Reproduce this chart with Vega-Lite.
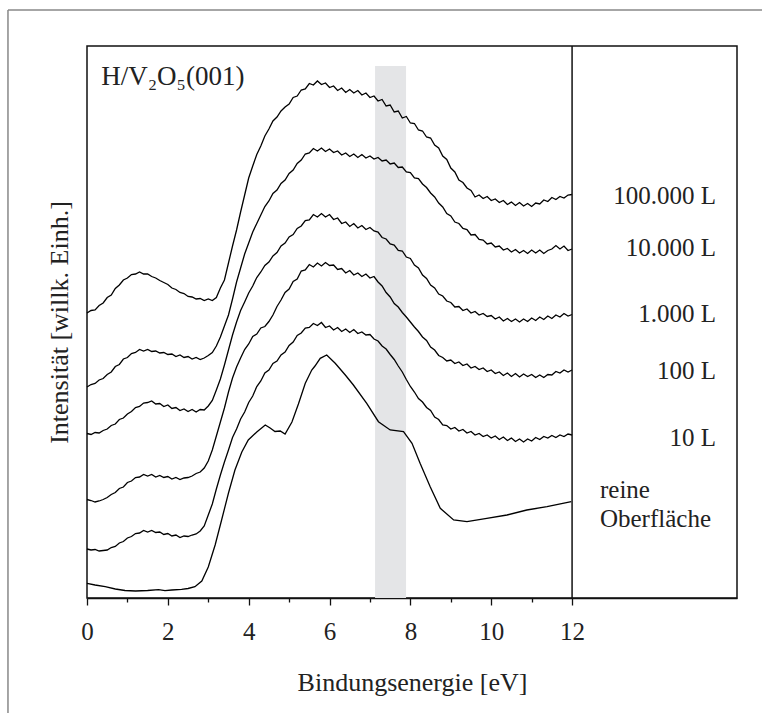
{
"$schema": "https://vega.github.io/schema/vega-lite/v6.json",
"width": 650, "height": 552,
"autosize": {"type": "none"},
"padding": {"left": 87, "top": 46, "right": 25, "bottom": 115},
"background": "white",
"config": {"view": {"stroke": "#111", "strokeWidth": 1.5}, "font": "Liberation Serif"},
"datasets": {
"curves": [
{"s":"a","x":0,"y":285},{"s":"a","x":0.1,"y":287.5},{"s":"a","x":0.2,"y":288},{"s":"a","x":0.3,"y":292.5},{"s":"a","x":0.4,"y":295},{"s":"a","x":0.5,"y":300.5},{"s":"a","x":0.6,"y":303},{"s":"a","x":0.7,"y":309.5},{"s":"a","x":0.8,"y":313},{"s":"a","x":0.9,"y":318},{"s":"a","x":1.0,"y":320},{"s":"a","x":1.1,"y":323.5},{"s":"a","x":1.2,"y":324},{"s":"a","x":1.3,"y":326},{"s":"a","x":1.4,"y":324},{"s":"a","x":1.5,"y":324},{"s":"a","x":1.6,"y":321.5},{"s":"a","x":1.7,"y":320},{"s":"a","x":1.8,"y":317.5},{"s":"a","x":1.9,"y":315.5},{"s":"a","x":2.0,"y":313.5},{"s":"a","x":2.1,"y":310},{"s":"a","x":2.2,"y":308.5},{"s":"a","x":2.3,"y":305.5},{"s":"a","x":2.4,"y":304.5},{"s":"a","x":2.5,"y":301.5},{"s":"a","x":2.6,"y":301},{"s":"a","x":2.7,"y":299},{"s":"a","x":2.8,"y":299.5},{"s":"a","x":2.9,"y":297.5},{"s":"a","x":3.0,"y":299},{"s":"a","x":3.1,"y":297.5},{"s":"a","x":3.2,"y":300.5},{"s":"a","x":3.3,"y":310},{"s":"a","x":3.4,"y":318},{"s":"a","x":3.5,"y":335},{"s":"a","x":3.6,"y":352},{"s":"a","x":3.7,"y":368},{"s":"a","x":3.8,"y":386},{"s":"a","x":3.9,"y":403},{"s":"a","x":4.0,"y":420},{"s":"a","x":4.1,"y":432},{"s":"a","x":4.2,"y":443.5},{"s":"a","x":4.3,"y":452},{"s":"a","x":4.4,"y":462},{"s":"a","x":4.5,"y":469},{"s":"a","x":4.6,"y":477},{"s":"a","x":4.7,"y":481},{"s":"a","x":4.8,"y":487},{"s":"a","x":4.9,"y":491},{"s":"a","x":5.0,"y":494},{"s":"a","x":5.1,"y":500.5},{"s":"a","x":5.2,"y":502},{"s":"a","x":5.3,"y":508},{"s":"a","x":5.4,"y":509},{"s":"a","x":5.5,"y":514.5},{"s":"a","x":5.6,"y":513},{"s":"a","x":5.7,"y":517},{"s":"a","x":5.8,"y":513.5},{"s":"a","x":5.9,"y":515},{"s":"a","x":6.0,"y":510.5},{"s":"a","x":6.1,"y":512},{"s":"a","x":6.2,"y":507.5},{"s":"a","x":6.3,"y":510},{"s":"a","x":6.4,"y":505.5},{"s":"a","x":6.5,"y":508.5},{"s":"a","x":6.6,"y":505},{"s":"a","x":6.7,"y":507.5},{"s":"a","x":6.8,"y":503},{"s":"a","x":6.9,"y":505},{"s":"a","x":7.0,"y":500.5},{"s":"a","x":7.1,"y":502},{"s":"a","x":7.2,"y":497},{"s":"a","x":7.3,"y":498.5},{"s":"a","x":7.4,"y":492},{"s":"a","x":7.5,"y":493},{"s":"a","x":7.6,"y":486},{"s":"a","x":7.7,"y":487},{"s":"a","x":7.8,"y":480},{"s":"a","x":7.9,"y":481.5},{"s":"a","x":8.0,"y":475},{"s":"a","x":8.1,"y":474.5},{"s":"a","x":8.2,"y":468},{"s":"a","x":8.3,"y":467},{"s":"a","x":8.4,"y":461},{"s":"a","x":8.5,"y":460},{"s":"a","x":8.6,"y":453},{"s":"a","x":8.7,"y":450},{"s":"a","x":8.8,"y":442},{"s":"a","x":8.9,"y":438.5},{"s":"a","x":9.0,"y":430},{"s":"a","x":9.1,"y":426},{"s":"a","x":9.2,"y":418},{"s":"a","x":9.3,"y":415.5},{"s":"a","x":9.4,"y":410},{"s":"a","x":9.5,"y":407.5},{"s":"a","x":9.6,"y":401},{"s":"a","x":9.7,"y":403},{"s":"a","x":9.8,"y":399.5},{"s":"a","x":9.9,"y":401.5},{"s":"a","x":10.0,"y":397.5},{"s":"a","x":10.1,"y":399},{"s":"a","x":10.2,"y":395.5},{"s":"a","x":10.3,"y":397.5},{"s":"a","x":10.4,"y":393.5},{"s":"a","x":10.5,"y":396},{"s":"a","x":10.6,"y":392.5},{"s":"a","x":10.7,"y":395.5},{"s":"a","x":10.8,"y":392},{"s":"a","x":10.9,"y":394.5},{"s":"a","x":11.0,"y":391.5},{"s":"a","x":11.1,"y":395},{"s":"a","x":11.2,"y":394},{"s":"a","x":11.3,"y":398},{"s":"a","x":11.4,"y":396.5},{"s":"a","x":11.5,"y":400.5},{"s":"a","x":11.6,"y":398.5},{"s":"a","x":11.7,"y":401.5},{"s":"a","x":11.8,"y":400},{"s":"a","x":11.9,"y":403},{"s":"a","x":12.0,"y":403.5},
{"s":"b","x":0,"y":211},{"s":"b","x":0.1,"y":213.5},{"s":"b","x":0.2,"y":214.5},{"s":"b","x":0.3,"y":218},{"s":"b","x":0.4,"y":219.5},{"s":"b","x":0.5,"y":223.5},{"s":"b","x":0.6,"y":226},{"s":"b","x":0.7,"y":231.5},{"s":"b","x":0.8,"y":233.5},{"s":"b","x":0.9,"y":239},{"s":"b","x":1.0,"y":240.5},{"s":"b","x":1.1,"y":244.5},{"s":"b","x":1.2,"y":245.5},{"s":"b","x":1.3,"y":248.5},{"s":"b","x":1.4,"y":247},{"s":"b","x":1.5,"y":248.5},{"s":"b","x":1.6,"y":246.5},{"s":"b","x":1.7,"y":247},{"s":"b","x":1.8,"y":245},{"s":"b","x":1.9,"y":245.5},{"s":"b","x":2.0,"y":243.5},{"s":"b","x":2.1,"y":244},{"s":"b","x":2.2,"y":241.5},{"s":"b","x":2.3,"y":243},{"s":"b","x":2.4,"y":240.5},{"s":"b","x":2.5,"y":241.5},{"s":"b","x":2.6,"y":239},{"s":"b","x":2.7,"y":240.5},{"s":"b","x":2.8,"y":238.5},{"s":"b","x":2.9,"y":240},{"s":"b","x":3.0,"y":242.5},{"s":"b","x":3.1,"y":245.5},{"s":"b","x":3.2,"y":252},{"s":"b","x":3.3,"y":261},{"s":"b","x":3.4,"y":272},{"s":"b","x":3.5,"y":283},{"s":"b","x":3.6,"y":299},{"s":"b","x":3.7,"y":316},{"s":"b","x":3.8,"y":330},{"s":"b","x":3.9,"y":344},{"s":"b","x":4.0,"y":355},{"s":"b","x":4.1,"y":366},{"s":"b","x":4.2,"y":374.5},{"s":"b","x":4.3,"y":383},{"s":"b","x":4.4,"y":391.5},{"s":"b","x":4.5,"y":397},{"s":"b","x":4.6,"y":404.5},{"s":"b","x":4.7,"y":408},{"s":"b","x":4.8,"y":414.5},{"s":"b","x":4.9,"y":418},{"s":"b","x":5.0,"y":424.5},{"s":"b","x":5.1,"y":428},{"s":"b","x":5.2,"y":434.5},{"s":"b","x":5.3,"y":438},{"s":"b","x":5.4,"y":444},{"s":"b","x":5.5,"y":445},{"s":"b","x":5.6,"y":449.5},{"s":"b","x":5.7,"y":447},{"s":"b","x":5.8,"y":450},{"s":"b","x":5.9,"y":446.5},{"s":"b","x":6.0,"y":449},{"s":"b","x":6.1,"y":445.5},{"s":"b","x":6.2,"y":447},{"s":"b","x":6.3,"y":443},{"s":"b","x":6.4,"y":445},{"s":"b","x":6.5,"y":441.5},{"s":"b","x":6.6,"y":444},{"s":"b","x":6.7,"y":440.5},{"s":"b","x":6.8,"y":443.5},{"s":"b","x":6.9,"y":440},{"s":"b","x":7.0,"y":442},{"s":"b","x":7.1,"y":439},{"s":"b","x":7.2,"y":440.5},{"s":"b","x":7.3,"y":437},{"s":"b","x":7.4,"y":438},{"s":"b","x":7.5,"y":434},{"s":"b","x":7.6,"y":435},{"s":"b","x":7.7,"y":430.5},{"s":"b","x":7.8,"y":431},{"s":"b","x":7.9,"y":426},{"s":"b","x":8.0,"y":425.5},{"s":"b","x":8.1,"y":420},{"s":"b","x":8.2,"y":419.5},{"s":"b","x":8.3,"y":414},{"s":"b","x":8.4,"y":410.5},{"s":"b","x":8.5,"y":405},{"s":"b","x":8.6,"y":401},{"s":"b","x":8.7,"y":395},{"s":"b","x":8.8,"y":391},{"s":"b","x":8.9,"y":384.5},{"s":"b","x":9.0,"y":382},{"s":"b","x":9.1,"y":376},{"s":"b","x":9.2,"y":374.5},{"s":"b","x":9.3,"y":369.5},{"s":"b","x":9.4,"y":368.5},{"s":"b","x":9.5,"y":363},{"s":"b","x":9.6,"y":363.5},{"s":"b","x":9.7,"y":358.5},{"s":"b","x":9.8,"y":358},{"s":"b","x":9.9,"y":354},{"s":"b","x":10.0,"y":355},{"s":"b","x":10.1,"y":351},{"s":"b","x":10.2,"y":352},{"s":"b","x":10.3,"y":348},{"s":"b","x":10.4,"y":349.5},{"s":"b","x":10.5,"y":346},{"s":"b","x":10.6,"y":348.5},{"s":"b","x":10.7,"y":345},{"s":"b","x":10.8,"y":347.5},{"s":"b","x":10.9,"y":344.5},{"s":"b","x":11.0,"y":348},{"s":"b","x":11.1,"y":345},{"s":"b","x":11.2,"y":348},{"s":"b","x":11.3,"y":344.5},{"s":"b","x":11.4,"y":347.5},{"s":"b","x":11.5,"y":349},{"s":"b","x":11.6,"y":352.5},{"s":"b","x":11.7,"y":349},{"s":"b","x":11.8,"y":352},{"s":"b","x":11.9,"y":347.5},{"s":"b","x":12.0,"y":349},
{"s":"c","x":0,"y":164.5},{"s":"c","x":0.1,"y":163.5},{"s":"c","x":0.2,"y":165.5},{"s":"c","x":0.3,"y":165},{"s":"c","x":0.4,"y":167.5},{"s":"c","x":0.5,"y":169},{"s":"c","x":0.6,"y":172.5},{"s":"c","x":0.7,"y":174},{"s":"c","x":0.8,"y":178.5},{"s":"c","x":0.9,"y":180},{"s":"c","x":1.0,"y":184},{"s":"c","x":1.1,"y":186.5},{"s":"c","x":1.2,"y":190.5},{"s":"c","x":1.3,"y":191.5},{"s":"c","x":1.4,"y":195},{"s":"c","x":1.5,"y":195.5},{"s":"c","x":1.6,"y":197},{"s":"c","x":1.7,"y":194},{"s":"c","x":1.8,"y":194.5},{"s":"c","x":1.9,"y":191.5},{"s":"c","x":2.0,"y":193},{"s":"c","x":2.1,"y":189.5},{"s":"c","x":2.2,"y":190.5},{"s":"c","x":2.3,"y":187.5},{"s":"c","x":2.4,"y":189},{"s":"c","x":2.5,"y":186.5},{"s":"c","x":2.6,"y":188.5},{"s":"c","x":2.7,"y":186},{"s":"c","x":2.8,"y":188.5},{"s":"c","x":2.9,"y":188},{"s":"c","x":3.0,"y":192},{"s":"c","x":3.1,"y":197.5},{"s":"c","x":3.2,"y":208},{"s":"c","x":3.3,"y":219},{"s":"c","x":3.4,"y":233},{"s":"c","x":3.5,"y":248},{"s":"c","x":3.6,"y":263},{"s":"c","x":3.7,"y":276},{"s":"c","x":3.8,"y":287.5},{"s":"c","x":3.9,"y":296},{"s":"c","x":4.0,"y":305},{"s":"c","x":4.1,"y":312},{"s":"c","x":4.2,"y":320.5},{"s":"c","x":4.3,"y":326},{"s":"c","x":4.4,"y":332.5},{"s":"c","x":4.5,"y":336},{"s":"c","x":4.6,"y":342},{"s":"c","x":4.7,"y":345.5},{"s":"c","x":4.8,"y":352},{"s":"c","x":4.9,"y":355},{"s":"c","x":5.0,"y":361},{"s":"c","x":5.1,"y":363.5},{"s":"c","x":5.2,"y":369.5},{"s":"c","x":5.3,"y":372},{"s":"c","x":5.4,"y":377.5},{"s":"c","x":5.5,"y":378},{"s":"c","x":5.6,"y":383.5},{"s":"c","x":5.7,"y":381},{"s":"c","x":5.8,"y":384.5},{"s":"c","x":5.9,"y":381},{"s":"c","x":6.0,"y":383.5},{"s":"c","x":6.1,"y":378.5},{"s":"c","x":6.2,"y":380},{"s":"c","x":6.3,"y":374.5},{"s":"c","x":6.4,"y":376},{"s":"c","x":6.5,"y":371.5},{"s":"c","x":6.6,"y":374.5},{"s":"c","x":6.7,"y":370},{"s":"c","x":6.8,"y":372.5},{"s":"c","x":6.9,"y":368.5},{"s":"c","x":7.0,"y":370.5},{"s":"c","x":7.1,"y":367},{"s":"c","x":7.2,"y":366},{"s":"c","x":7.3,"y":360.5},{"s":"c","x":7.4,"y":359},{"s":"c","x":7.5,"y":354},{"s":"c","x":7.6,"y":353},{"s":"c","x":7.7,"y":347.5},{"s":"c","x":7.8,"y":347},{"s":"c","x":7.9,"y":341},{"s":"c","x":8.0,"y":339.5},{"s":"c","x":8.1,"y":333},{"s":"c","x":8.2,"y":330},{"s":"c","x":8.3,"y":323},{"s":"c","x":8.4,"y":319.5},{"s":"c","x":8.5,"y":313},{"s":"c","x":8.6,"y":310},{"s":"c","x":8.7,"y":304},{"s":"c","x":8.8,"y":302},{"s":"c","x":8.9,"y":297},{"s":"c","x":9.0,"y":295.5},{"s":"c","x":9.1,"y":291},{"s":"c","x":9.2,"y":291.5},{"s":"c","x":9.3,"y":287.5},{"s":"c","x":9.4,"y":289},{"s":"c","x":9.5,"y":285},{"s":"c","x":9.6,"y":286.5},{"s":"c","x":9.7,"y":283},{"s":"c","x":9.8,"y":284.5},{"s":"c","x":9.9,"y":281.5},{"s":"c","x":10.0,"y":282.5},{"s":"c","x":10.1,"y":279},{"s":"c","x":10.2,"y":281},{"s":"c","x":10.3,"y":277},{"s":"c","x":10.4,"y":279.5},{"s":"c","x":10.5,"y":276.5},{"s":"c","x":10.6,"y":279},{"s":"c","x":10.7,"y":276},{"s":"c","x":10.8,"y":279},{"s":"c","x":10.9,"y":276.5},{"s":"c","x":11.0,"y":280},{"s":"c","x":11.1,"y":277.5},{"s":"c","x":11.2,"y":281},{"s":"c","x":11.3,"y":278.5},{"s":"c","x":11.4,"y":282},{"s":"c","x":11.5,"y":279.5},{"s":"c","x":11.6,"y":283},{"s":"c","x":11.7,"y":281},{"s":"c","x":11.8,"y":284.5},{"s":"c","x":11.9,"y":282},{"s":"c","x":12.0,"y":283.5},
{"s":"d","x":0,"y":98.5},{"s":"d","x":0.1,"y":97.5},{"s":"d","x":0.2,"y":96},{"s":"d","x":0.3,"y":97},{"s":"d","x":0.4,"y":98.5},{"s":"d","x":0.5,"y":100.5},{"s":"d","x":0.6,"y":103.5},{"s":"d","x":0.7,"y":105.5},{"s":"d","x":0.8,"y":109.5},{"s":"d","x":0.9,"y":111},{"s":"d","x":1.0,"y":115.5},{"s":"d","x":1.1,"y":117},{"s":"d","x":1.2,"y":120.5},{"s":"d","x":1.3,"y":121},{"s":"d","x":1.4,"y":123.5},{"s":"d","x":1.5,"y":122},{"s":"d","x":1.6,"y":123.5},{"s":"d","x":1.7,"y":121},{"s":"d","x":1.8,"y":122.5},{"s":"d","x":1.9,"y":120.5},{"s":"d","x":2.0,"y":121.5},{"s":"d","x":2.1,"y":119},{"s":"d","x":2.2,"y":120.5},{"s":"d","x":2.3,"y":118.5},{"s":"d","x":2.4,"y":120},{"s":"d","x":2.5,"y":120.5},{"s":"d","x":2.6,"y":122},{"s":"d","x":2.7,"y":124.5},{"s":"d","x":2.8,"y":126},{"s":"d","x":2.9,"y":130},{"s":"d","x":3.0,"y":137},{"s":"d","x":3.1,"y":148},{"s":"d","x":3.2,"y":162},{"s":"d","x":3.3,"y":176},{"s":"d","x":3.4,"y":190},{"s":"d","x":3.5,"y":206},{"s":"d","x":3.6,"y":220},{"s":"d","x":3.7,"y":231},{"s":"d","x":3.8,"y":240},{"s":"d","x":3.9,"y":248.5},{"s":"d","x":4.0,"y":254},{"s":"d","x":4.1,"y":261.5},{"s":"d","x":4.2,"y":264},{"s":"d","x":4.3,"y":270},{"s":"d","x":4.4,"y":271.5},{"s":"d","x":4.5,"y":276.5},{"s":"d","x":4.6,"y":283},{"s":"d","x":4.7,"y":291.5},{"s":"d","x":4.8,"y":298},{"s":"d","x":4.9,"y":305.5},{"s":"d","x":5.0,"y":309},{"s":"d","x":5.1,"y":316.5},{"s":"d","x":5.2,"y":319},{"s":"d","x":5.3,"y":327},{"s":"d","x":5.4,"y":328},{"s":"d","x":5.5,"y":333.5},{"s":"d","x":5.6,"y":331},{"s":"d","x":5.7,"y":335},{"s":"d","x":5.8,"y":332},{"s":"d","x":5.9,"y":335.5},{"s":"d","x":6.0,"y":332.5},{"s":"d","x":6.1,"y":333},{"s":"d","x":6.2,"y":328.5},{"s":"d","x":6.3,"y":329.5},{"s":"d","x":6.4,"y":325},{"s":"d","x":6.5,"y":327.5},{"s":"d","x":6.6,"y":323},{"s":"d","x":6.7,"y":325},{"s":"d","x":6.8,"y":321.5},{"s":"d","x":6.9,"y":324},{"s":"d","x":7.0,"y":320},{"s":"d","x":7.1,"y":321.5},{"s":"d","x":7.2,"y":316},{"s":"d","x":7.3,"y":312},{"s":"d","x":7.4,"y":305.5},{"s":"d","x":7.5,"y":301},{"s":"d","x":7.6,"y":294.5},{"s":"d","x":7.7,"y":291},{"s":"d","x":7.8,"y":285.5},{"s":"d","x":7.9,"y":281},{"s":"d","x":8.0,"y":276},{"s":"d","x":8.1,"y":271},{"s":"d","x":8.2,"y":266.5},{"s":"d","x":8.3,"y":261},{"s":"d","x":8.4,"y":257.5},{"s":"d","x":8.5,"y":251},{"s":"d","x":8.6,"y":248},{"s":"d","x":8.7,"y":242.5},{"s":"d","x":8.8,"y":240.5},{"s":"d","x":8.9,"y":237},{"s":"d","x":9.0,"y":238},{"s":"d","x":9.1,"y":234.5},{"s":"d","x":9.2,"y":236},{"s":"d","x":9.3,"y":232.5},{"s":"d","x":9.4,"y":234},{"s":"d","x":9.5,"y":230},{"s":"d","x":9.6,"y":231.5},{"s":"d","x":9.7,"y":228.5},{"s":"d","x":9.8,"y":230},{"s":"d","x":9.9,"y":226.5},{"s":"d","x":10.0,"y":228},{"s":"d","x":10.1,"y":224.5},{"s":"d","x":10.2,"y":226},{"s":"d","x":10.3,"y":222.5},{"s":"d","x":10.4,"y":225},{"s":"d","x":10.5,"y":221.5},{"s":"d","x":10.6,"y":224.5},{"s":"d","x":10.7,"y":221},{"s":"d","x":10.8,"y":224},{"s":"d","x":10.9,"y":221.5},{"s":"d","x":11.0,"y":223.5},{"s":"d","x":11.1,"y":220.5},{"s":"d","x":11.2,"y":223},{"s":"d","x":11.3,"y":220.5},{"s":"d","x":11.4,"y":223.5},{"s":"d","x":11.5,"y":223},{"s":"d","x":11.6,"y":226.5},{"s":"d","x":11.7,"y":225},{"s":"d","x":11.8,"y":228},{"s":"d","x":11.9,"y":226},{"s":"d","x":12.0,"y":228},
{"s":"e","x":0,"y":49},{"s":"e","x":0.1,"y":48},{"s":"e","x":0.2,"y":48.5},{"s":"e","x":0.3,"y":47},{"s":"e","x":0.4,"y":47.5},{"s":"e","x":0.5,"y":48},{"s":"e","x":0.6,"y":50.5},{"s":"e","x":0.7,"y":51.5},{"s":"e","x":0.8,"y":55},{"s":"e","x":0.9,"y":56.5},{"s":"e","x":1.0,"y":60},{"s":"e","x":1.1,"y":61.5},{"s":"e","x":1.2,"y":64.5},{"s":"e","x":1.3,"y":65},{"s":"e","x":1.4,"y":67.5},{"s":"e","x":1.5,"y":66},{"s":"e","x":1.6,"y":67.5},{"s":"e","x":1.7,"y":65.5},{"s":"e","x":1.8,"y":66},{"s":"e","x":1.9,"y":63.5},{"s":"e","x":2.0,"y":64.5},{"s":"e","x":2.1,"y":62},{"s":"e","x":2.2,"y":63},{"s":"e","x":2.3,"y":60.5},{"s":"e","x":2.4,"y":62},{"s":"e","x":2.5,"y":61.5},{"s":"e","x":2.6,"y":63},{"s":"e","x":2.7,"y":64},{"s":"e","x":2.8,"y":67},{"s":"e","x":2.9,"y":72},{"s":"e","x":3.0,"y":83},{"s":"e","x":3.1,"y":94},{"s":"e","x":3.2,"y":109},{"s":"e","x":3.3,"y":123},{"s":"e","x":3.4,"y":136},{"s":"e","x":3.5,"y":148},{"s":"e","x":3.6,"y":160.5},{"s":"e","x":3.7,"y":169},{"s":"e","x":3.8,"y":179},{"s":"e","x":3.9,"y":186},{"s":"e","x":4.0,"y":195.5},{"s":"e","x":4.1,"y":202},{"s":"e","x":4.2,"y":211.5},{"s":"e","x":4.3,"y":217},{"s":"e","x":4.4,"y":225},{"s":"e","x":4.5,"y":228},{"s":"e","x":4.6,"y":234.5},{"s":"e","x":4.7,"y":237},{"s":"e","x":4.8,"y":243},{"s":"e","x":4.9,"y":246},{"s":"e","x":5.0,"y":252.5},{"s":"e","x":5.1,"y":256},{"s":"e","x":5.2,"y":262.5},{"s":"e","x":5.3,"y":265},{"s":"e","x":5.4,"y":270},{"s":"e","x":5.5,"y":270.5},{"s":"e","x":5.6,"y":274.5},{"s":"e","x":5.7,"y":272.5},{"s":"e","x":5.8,"y":275.5},{"s":"e","x":5.9,"y":270.5},{"s":"e","x":6.0,"y":272},{"s":"e","x":6.1,"y":268},{"s":"e","x":6.2,"y":270.5},{"s":"e","x":6.3,"y":266.5},{"s":"e","x":6.4,"y":269},{"s":"e","x":6.5,"y":265.5},{"s":"e","x":6.6,"y":268.5},{"s":"e","x":6.7,"y":264.5},{"s":"e","x":6.8,"y":266},{"s":"e","x":6.9,"y":263},{"s":"e","x":7.0,"y":263.5},{"s":"e","x":7.1,"y":259},{"s":"e","x":7.2,"y":257},{"s":"e","x":7.3,"y":252},{"s":"e","x":7.4,"y":249},{"s":"e","x":7.5,"y":243.5},{"s":"e","x":7.6,"y":238.5},{"s":"e","x":7.7,"y":232},{"s":"e","x":7.8,"y":226},{"s":"e","x":7.9,"y":218.5},{"s":"e","x":8.0,"y":211.5},{"s":"e","x":8.1,"y":206},{"s":"e","x":8.2,"y":199.5},{"s":"e","x":8.3,"y":196},{"s":"e","x":8.4,"y":190.5},{"s":"e","x":8.5,"y":187.5},{"s":"e","x":8.6,"y":181},{"s":"e","x":8.7,"y":178.5},{"s":"e","x":8.8,"y":173},{"s":"e","x":8.9,"y":172.5},{"s":"e","x":9.0,"y":169},{"s":"e","x":9.1,"y":170.5},{"s":"e","x":9.2,"y":167},{"s":"e","x":9.3,"y":168.5},{"s":"e","x":9.4,"y":165},{"s":"e","x":9.5,"y":166.5},{"s":"e","x":9.6,"y":163},{"s":"e","x":9.7,"y":164.5},{"s":"e","x":9.8,"y":161.5},{"s":"e","x":9.9,"y":163},{"s":"e","x":10.0,"y":160},{"s":"e","x":10.1,"y":162},{"s":"e","x":10.2,"y":158.5},{"s":"e","x":10.3,"y":161},{"s":"e","x":10.4,"y":157.5},{"s":"e","x":10.5,"y":160},{"s":"e","x":10.6,"y":156.5},{"s":"e","x":10.7,"y":159},{"s":"e","x":10.8,"y":156},{"s":"e","x":10.9,"y":159},{"s":"e","x":11.0,"y":157},{"s":"e","x":11.1,"y":160.5},{"s":"e","x":11.2,"y":158.5},{"s":"e","x":11.3,"y":161.5},{"s":"e","x":11.4,"y":160},{"s":"e","x":11.5,"y":162.5},{"s":"e","x":11.6,"y":160.5},{"s":"e","x":11.7,"y":163},{"s":"e","x":11.8,"y":161.5},{"s":"e","x":11.9,"y":164},{"s":"e","x":12.0,"y":163},
{"s":"f","x":0,"y":14.7},{"s":"f","x":0.2,"y":13},{"s":"f","x":0.45,"y":11.3},{"s":"f","x":0.7,"y":9},{"s":"f","x":0.94,"y":7.5},{"s":"f","x":1.2,"y":7},{"s":"f","x":1.5,"y":7.5},{"s":"f","x":1.77,"y":8.3},{"s":"f","x":1.93,"y":7.3},{"s":"f","x":2.1,"y":8},{"s":"f","x":2.34,"y":8.7},{"s":"f","x":2.5,"y":9.5},{"s":"f","x":2.67,"y":11.3},{"s":"f","x":2.84,"y":17},{"s":"f","x":3.0,"y":31},{"s":"f","x":3.17,"y":53},{"s":"f","x":3.33,"y":78},{"s":"f","x":3.5,"y":105},{"s":"f","x":3.66,"y":128},{"s":"f","x":3.83,"y":146},{"s":"f","x":3.99,"y":158},{"s":"f","x":4.2,"y":166},{"s":"f","x":4.41,"y":173},{"s":"f","x":4.53,"y":170},{"s":"f","x":4.65,"y":166.5},{"s":"f","x":4.78,"y":167},{"s":"f","x":4.9,"y":164},{"s":"f","x":5.07,"y":176},{"s":"f","x":5.23,"y":194},{"s":"f","x":5.4,"y":214.7},{"s":"f","x":5.56,"y":228},{"s":"f","x":5.64,"y":232},{"s":"f","x":5.77,"y":239.7},{"s":"f","x":5.93,"y":243},{"s":"f","x":6.14,"y":234.7},{"s":"f","x":6.39,"y":223},{"s":"f","x":6.59,"y":213},{"s":"f","x":6.92,"y":194.7},{"s":"f","x":7.21,"y":176.3},{"s":"f","x":7.5,"y":168},{"s":"f","x":7.83,"y":166.3},{"s":"f","x":8.04,"y":154.7},{"s":"f","x":8.24,"y":134.7},{"s":"f","x":8.49,"y":111.3},{"s":"f","x":8.74,"y":89.7},{"s":"f","x":9.07,"y":78},{"s":"f","x":9.4,"y":76.3},{"s":"f","x":9.89,"y":79.7},{"s":"f","x":10.39,"y":83},{"s":"f","x":10.88,"y":88},{"s":"f","x":11.38,"y":91.3},{"s":"f","x":11.98,"y":96.3}
],
"labels": [{"t":"100.000 L","y":394},{"t":"10.000 L","y":342},{"t":"1.000 L","y":276},{"t":"100 L","y":219},{"t":"10 L","y":152.3}]
},
"layer": [
{"data": {"values": [{}]}, "mark": {"type": "rule", "color": "#888", "strokeWidth": 1.5},
 "encoding": {"x": {"datum": -1.955, "type": "quantitative"}, "x2": {"datum": 17.5}, "y": {"datum": 588, "type": "quantitative"}}},
{"data": {"values": [{}]}, "mark": {"type": "rule", "color": "#888", "strokeWidth": 1.5},
 "encoding": {"x": {"datum": -1.955, "type": "quantitative"}, "y": {"datum": 588, "type": "quantitative"}, "y2": {"datum": -130}}},
{"data": {"values": [{}]}, "mark": {"type": "rect", "color": "#e4e5e7"},
 "encoding": {"x": {"datum": 7.126, "type": "quantitative"}, "x2": {"datum": 7.893}, "y": {"datum": 0, "type": "quantitative"}, "y2": {"datum": 532}}},
{"data": {"name": "curves"}, "mark": {"type": "line", "color": "#000", "strokeWidth": 1.3},
 "encoding": {
  "x": {"field": "x", "type": "quantitative", "scale": {"domain": [0, 16.08], "nice": false, "zero": false},
   "axis": {"title": "Bindungsenergie [eV]", "values": [0,0.5,1,1.5,2,2.5,3,3.5,4,4.5,5,5.5,6,6.5,7,7.5,8,8.5,9,9.5,10,10.5,11,11.5,12],
    "labelExpr": "datum.value % 2 === 0 ? datum.label : ''", "grid": false,
    "domainColor": "#111", "domainWidth": 1.5, "tickColor": "#111", "tickWidth": 1.3,
    "tickSize": {"condition": {"test": "datum.value % 2 === 0", "value": 7}, "value": 4},
    "labelFont": "Liberation Serif", "labelFontSize": 25, "labelColor": "#222", "labelPadding": 14,
    "labelFlush": false, "labelOverlap": false,
    "titleFont": "Liberation Serif", "titleFontSize": 26, "titleFontWeight": "normal", "titleColor": "#222", "titlePadding": 25}},
  "y": {"field": "y", "type": "quantitative", "scale": {"domain": [0, 552], "nice": false, "zero": false},
   "axis": {"title": "Intensität [willk. Einh.]", "labels": false, "ticks": false, "domain": false, "grid": false,
    "titleFont": "Liberation Serif", "titleFontSize": 26, "titleFontWeight": "normal", "titleColor": "#222", "titlePadding": 15}},
  "detail": {"field": "s", "type": "nominal"}
 }},
{"data": {"values": [{}]}, "mark": {"type": "rule", "color": "#111", "strokeWidth": 1.5},
 "encoding": {"x": {"datum": 12, "type": "quantitative"}, "y": {"datum": 0, "type": "quantitative"}, "y2": {"datum": 552}}},
{"data": {"values": [{"t": "H/V₂O₅(001)"}]}, "mark": {"type": "text", "font": "Liberation Serif", "fontSize": 27, "color": "#222", "align": "left", "baseline": "alphabetic"},
 "encoding": {"x": {"datum": 0.35, "type": "quantitative"}, "y": {"datum": 513, "type": "quantitative"}, "text": {"field": "t"}}},
{"data": {"name": "labels"}, "mark": {"type": "text", "font": "Liberation Serif", "fontSize": 25, "color": "#222", "align": "right", "baseline": "alphabetic"},
 "encoding": {"x": {"datum": 15.56, "type": "quantitative"}, "y": {"field": "y", "type": "quantitative"}, "text": {"field": "t"}}},
{"data": {"values": [{"t": ["reine", "Oberfläche"]}]}, "mark": {"type": "text", "font": "Liberation Serif", "fontSize": 25, "color": "#222", "align": "left", "baseline": "alphabetic", "lineHeight": 29},
 "encoding": {"x": {"datum": 12.69, "type": "quantitative"}, "y": {"datum": 100, "type": "quantitative"}, "text": {"field": "t"}}}
]
}
